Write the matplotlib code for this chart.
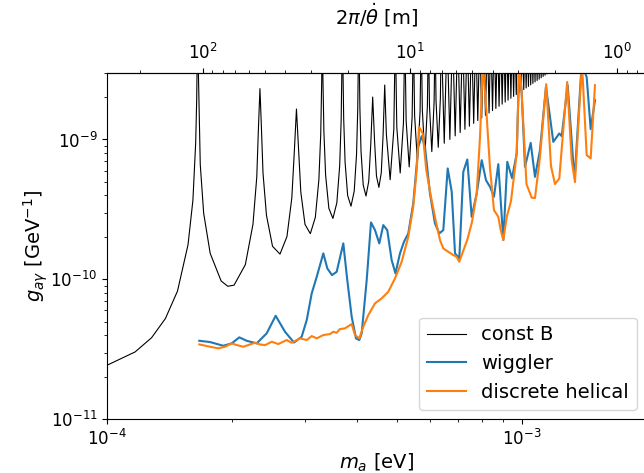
import numpy as np
import matplotlib.pyplot as plt

plt.rcParams['font.size'] = 14
plt.rcParams['xtick.labelsize'] = 12
plt.rcParams['ytick.labelsize'] = 12

# const B limit (min / flank / peak points of each oscillation)
constb_m = [
    1.000e-4, 1.167e-4, 1.279e-4, 1.381e-4, 1.477e-4, 1.566e-4, 1.609e-4, 1.634e-4, 1.643e-4, 1.651e-4,
    1.676e-4, 1.708e-4, 1.771e-4, 1.882e-4, 1.953e-4, 2.022e-4, 2.153e-4, 2.246e-4, 2.294e-4, 2.317e-4, 2.335e-4,
    2.352e-4, 2.375e-4, 2.421e-4, 2.504e-4, 2.610e-4, 2.713e-4, 2.787e-4, 2.826e-4, 2.860e-4,
    2.893e-4, 2.930e-4, 2.999e-4, 3.089e-4, 3.176e-4, 3.239e-4, 3.273e-4, 3.290e-4, 3.302e-4,
    3.314e-4, 3.331e-4, 3.363e-4, 3.424e-4, 3.502e-4, 3.579e-4, 3.636e-4, 3.666e-4, 3.681e-4, 3.692e-4,
    3.703e-4, 3.718e-4, 3.747e-4, 3.801e-4, 3.872e-4, 3.942e-4, 3.993e-4, 4.020e-4, 4.034e-4, 4.044e-4,
    4.054e-4, 4.068e-4, 4.094e-4, 4.144e-4, 4.209e-4, 4.273e-4, 4.321e-4, 4.368e-4,
    4.415e-4, 4.461e-4, 4.521e-4, 4.581e-4, 4.626e-4, 4.670e-4,
    4.713e-4, 4.813e-4, 4.912e-4, 4.953e-4,
    4.994e-4, 5.089e-4, 5.182e-4, 5.221e-4,
    5.260e-4, 5.350e-4, 5.438e-4, 5.476e-4,
    5.513e-4, 5.599e-4, 5.683e-4, 5.719e-4,
    5.755e-4, 5.837e-4, 5.918e-4, 5.953e-4,
    5.987e-4, 6.066e-4, 6.144e-4, 6.178e-4,
    6.210e-4, 6.287e-4, 6.362e-4, 6.394e-4,
    6.500e-4, 6.604e-4, 6.706e-4, 6.807e-4, 6.907e-4, 7.005e-4, 7.101e-4, 7.197e-4,
    7.291e-4, 7.384e-4, 7.475e-4, 7.566e-4, 7.655e-4, 7.744e-4, 7.831e-4, 7.918e-4,
    8.004e-4, 8.088e-4, 8.172e-4, 8.255e-4, 8.337e-4, 8.418e-4, 8.499e-4, 8.579e-4,
    8.658e-4, 8.736e-4, 8.814e-4, 8.891e-4, 8.967e-4, 9.043e-4, 9.118e-4, 9.192e-4,
    9.266e-4, 9.340e-4, 9.412e-4, 9.484e-4, 9.556e-4, 9.627e-4, 9.697e-4, 9.767e-4,
    9.837e-4, 9.906e-4, 9.975e-4, 1.0043e-3, 1.0110e-3, 1.0177e-3, 1.0244e-3, 1.0311e-3,
    1.0376e-3, 1.0442e-3, 1.0507e-3, 1.0572e-3, 1.0636e-3, 1.0700e-3, 1.0763e-3, 1.0826e-3,
    1.0889e-3, 1.0951e-3, 1.1014e-3, 1.1075e-3, 1.1137e-3, 1.1198e-3, 1.1258e-3, 1.1319e-3,
    1.1379e-3, 1.1438e-3, 1.1498e-3, 1.1557e-3,
]
constb_g = [
    2.44e-11, 3.03e-11, 3.83e-11, 5.25e-11, 8.25e-11, 1.77e-10, 3.68e-10, 9.46e-10, 1.9e-9, 6e-9,
    6.64e-10, 2.974e-10, 1.536e-10, 9.74e-11, 8.93e-11, 9.09e-11, 1.274e-10, 2.471e-10, 5.365e-10, 1.27e-9, 2.31e-9,
    1.308e-9, 5.755e-10, 2.872e-10, 1.724e-10, 1.516e-10, 2.023e-10, 3.807e-10, 8.145e-10, 1.65e-9,
    8.534e-10, 4.207e-10, 2.473e-10, 2.122e-10, 2.773e-10, 5.142e-10, 1.0925e-9, 2.559e-9, 6e-9,
    2.597e-9, 1.131e-9, 5.543e-10, 3.222e-10, 2.728e-10, 3.522e-10, 6.478e-10, 1.370e-9, 3.203e-9, 6e-9,
    3.242e-9, 1.409e-9, 6.879e-10, 3.972e-10, 3.335e-10, 4.271e-10, 7.814e-10, 1.648e-9, 3.848e-9, 6e-9,
    3.886e-9, 1.687e-9, 8.214e-10, 4.721e-10, 3.941e-10, 5.021e-10, 9.149e-10, 2.01e-9,
    9.55e-10, 5.47e-10, 4.547e-10, 5.77e-10, 1.0485e-9, 2.45e-9,
    1.0886e-9, 5.154e-10, 1.182e-9, 6e-9,
    1.222e-9, 5.760e-10, 1.3157e-9, 6e-9,
    1.3557e-9, 6.366e-10, 1.4492e-9, 6e-9,
    1.4893e-9, 6.972e-10, 1.5828e-9, 6e-9,
    1.6229e-9, 7.579e-10, 1.7164e-9, 6e-9,
    1.7564e-9, 8.185e-10, 1.8499e-9, 6e-9,
    1.890e-9, 8.791e-10, 1.9835e-9, 6e-9,
    9.398e-10, 6e-9, 1.0004e-9, 6e-9, 1.061e-9, 6e-9, 1.1217e-9, 6e-9,
    1.1823e-9, 6e-9, 1.2429e-9, 6e-9, 1.3035e-9, 6e-9, 1.3642e-9, 6e-9,
    1.4248e-9, 6e-9, 1.4854e-9, 6e-9, 1.546e-9, 6e-9, 1.6067e-9, 6e-9,
    1.6673e-9, 6e-9, 1.728e-9, 6e-9, 1.7886e-9, 6e-9, 1.8492e-9, 6e-9,
    1.9098e-9, 6e-9, 1.9705e-9, 6e-9, 2.0311e-9, 6e-9, 2.0917e-9, 6e-9,
    2.1524e-9, 6e-9, 2.213e-9, 6e-9, 2.2736e-9, 6e-9, 2.3343e-9, 6e-9,
    2.3949e-9, 6e-9, 2.4555e-9, 6e-9, 2.5161e-9, 6e-9, 2.5768e-9, 6e-9,
    2.6374e-9, 6e-9, 2.698e-9, 6e-9, 2.7587e-9, 6e-9, 2.8193e-9, 6e-9,
    2.8799e-9, 6e-9, 2.9405e-9, 6e-9,
]

# wiggler
wiggler_m = [
    1.667e-4, 1.769e-4, 1.905e-4, 1.996e-4, 2.082e-4, 2.169e-4, 2.293e-4, 2.424e-4, 2.548e-4, 2.684e-4,
    2.821e-4, 2.944e-4, 3.028e-4, 3.113e-4, 3.201e-4, 3.320e-4, 3.395e-4, 3.484e-4, 3.576e-4, 3.710e-4,
    3.793e-4, 3.887e-4, 3.981e-4, 4.055e-4, 4.109e-4, 4.225e-4, 4.327e-4, 4.424e-4, 4.531e-4, 4.633e-4,
    4.736e-4, 4.853e-4, 4.957e-4, 5.083e-4, 5.197e-4, 5.323e-4, 5.472e-4, 5.627e-4, 5.734e-4, 5.840e-4,
    6.004e-4, 6.173e-4, 6.324e-4, 6.466e-4, 6.626e-4, 6.776e-4, 6.901e-4, 7.067e-4, 7.226e-4, 7.388e-4,
    7.570e-4, 7.784e-4, 8.004e-4, 8.196e-4, 8.381e-4, 8.568e-4, 8.776e-4, 9.024e-4, 9.226e-4, 9.471e-4,
    9.721e-4, 9.863e-4, 9.995e-4, 1.0179e-3, 1.0507e-3, 1.0760e-3, 1.1063e-3, 1.1439e-3, 1.1912e-3, 1.2316e-3,
    1.2483e-3, 1.2903e-3, 1.3311e-3, 1.3436e-3, 1.3947e-3, 1.4340e-3, 1.4661e-3, 1.5016e-3,
]
wiggler_g = [
    3.642e-11, 3.566e-11, 3.355e-11, 3.49e-11, 3.852e-11, 3.642e-11, 3.49e-11, 4.114e-11, 5.495e-11, 4.224e-11,
    3.537e-11, 3.89e-11, 5.12e-11, 7.943e-11, 1.044e-10, 1.534e-10, 1.198e-10, 1.073e-10, 1.133e-10, 1.808e-10,
    9.886e-11, 5.406e-11, 3.79e-11, 3.686e-11, 4.114e-11, 9.886e-11, 2.554e-10, 2.250e-10, 1.808e-10, 2.443e-10,
    2.250e-10, 1.374e-10, 1.104e-10, 1.534e-10, 1.856e-10, 2.131e-10, 3.491e-10, 8.854e-10, 1.056e-9, 8.854e-10,
    4.115e-10, 2.512e-10, 2.131e-10, 2.250e-10, 6.206e-10, 4.224e-10, 1.534e-10, 1.413e-10, 5.869e-10, 7.196e-10,
    2.800e-10, 4.115e-10, 7.113e-10, 5.12e-10, 4.585e-10, 3.89e-10, 6.662e-10, 1.909e-10, 6.918e-10, 5.292e-10,
    7.943e-10, 3.5e-9, 2.131e-9, 6.372e-10, 9.456e-10, 5.406e-10, 8.388e-10, 2.375e-9, 9.614e-10, 1.104e-9,
    1.056e-9, 2.443e-9, 6.772e-10, 5.745e-10, 3.5e-9, 2.786e-9, 1.185e-9, 1.909e-9,
]

# discrete helical
helical_m = [
    1.667e-4, 1.769e-4, 1.852e-4, 1.923e-4, 1.996e-4, 2.052e-4, 2.129e-4, 2.210e-4, 2.272e-4, 2.336e-4,
    2.402e-4, 2.493e-4, 2.585e-4, 2.709e-4, 2.785e-4, 2.917e-4, 3.028e-4, 3.113e-4, 3.201e-4, 3.320e-4,
    3.446e-4, 3.509e-4, 3.576e-4, 3.642e-4, 3.745e-4, 3.887e-4, 3.959e-4, 4.055e-4, 4.146e-4, 4.263e-4,
    4.424e-4, 4.592e-4, 4.763e-4, 4.944e-4, 5.131e-4, 5.323e-4, 5.472e-4, 5.577e-4, 5.649e-4, 5.766e-4,
    5.883e-4, 6.038e-4, 6.209e-4, 6.348e-4, 6.466e-4, 6.648e-4, 6.835e-4, 6.965e-4, 7.063e-4, 7.210e-4,
    7.396e-4, 7.583e-4, 7.784e-4, 7.929e-4, 8.056e-4, 8.211e-4, 8.381e-4, 8.568e-4, 8.776e-4, 8.894e-4,
    9.024e-4, 9.196e-4, 9.417e-4, 9.721e-4, 9.863e-4, 9.995e-4, 1.0264e-3, 1.0565e-3, 1.0760e-3, 1.1063e-3,
    1.1452e-3, 1.1760e-3, 1.2025e-3, 1.2316e-3, 1.2867e-3, 1.3193e-3, 1.3436e-3, 1.3969e-3, 1.4340e-3, 1.4661e-3,
    1.5016e-3,
]
helical_g = [
    3.43e-11, 3.301e-11, 3.215e-11, 3.30e-11, 3.49e-11, 3.394e-11, 3.30e-11, 3.43e-11, 3.525e-11, 3.43e-11,
    3.39e-11, 3.584e-11, 3.45e-11, 3.686e-11, 3.525e-11, 3.79e-11, 3.686e-11, 3.936e-11, 3.79e-11, 4.0e-11,
    4.067e-11, 4.224e-11, 4.155e-11, 4.416e-11, 4.467e-11, 4.794e-11, 4.0e-11, 3.79e-11, 4.585e-11, 5.559e-11,
    6.739e-11, 7.316e-11, 8.154e-11, 1.0165e-10, 1.336e-10, 2.015e-10, 3.301e-10, 6.035e-10, 1.230e-9, 1.109e-9,
    6.035e-10, 3.89e-10, 2.567e-10, 1.909e-10, 1.665e-10, 1.574e-10, 1.492e-10, 1.450e-10, 1.336e-10, 1.574e-10,
    1.941e-10, 2.567e-10, 4.115e-10, 1.044e-9, 3.5e-9, 1.619e-9, 6.237e-10, 3.126e-10, 2.800e-10, 2.250e-10,
    1.909e-10, 2.786e-10, 3.626e-10, 7.943e-10, 3.5e-9, 2.131e-9, 4.795e-10, 3.84e-10, 3.81e-10, 7.51e-10,
    2.483e-9, 6.446e-10, 4.795e-10, 5.265e-10, 2.578e-9, 7.113e-10, 4.955e-10, 3.5e-9, 7.725e-10, 7.316e-10,
    2.443e-9,
]

# period of the rotating field: 2*pi/thetadot = C / m_a^2  (C in m eV^2)
C = 2.889e-6


def m_to_len(m):
    m = np.asarray(m, dtype=float)
    return C / np.maximum(m, 1e-12) ** 2


def len_to_m(l):
    l = np.asarray(l, dtype=float)
    return np.sqrt(C / np.maximum(l, 1e-12))


fig = plt.figure(figsize=(6.44, 4.73), dpi=100)
# right spine sits just past the image edge, as in the original crop
ax = fig.add_axes([0.1666, 0.1135, 0.8374, 0.7328])

ax.plot(constb_m, constb_g, color='k', lw=0.8, label='const B')
ax.plot(wiggler_m, wiggler_g, color='C0', label='wiggler')
ax.plot(helical_m, helical_g, color='C1', label='discrete helical')

ax.set_xscale('log')
ax.set_yscale('log')
ax.set_xlim(1e-4, 2e-3)
ax.set_ylim(1e-11, 3e-9)
ax.set_xlabel(r'$m_a$ [eV]', labelpad=2)
ax.set_ylabel(r'$g_{a\gamma}$ [GeV$^{-1}$]', labelpad=0)

secax = ax.secondary_xaxis('top', functions=(m_to_len, len_to_m))
secax.set_xlabel(r'$2\pi/\dot{\theta}$ [m]', labelpad=13)

ax.legend(loc='lower right')

fig.savefig('out.png')
